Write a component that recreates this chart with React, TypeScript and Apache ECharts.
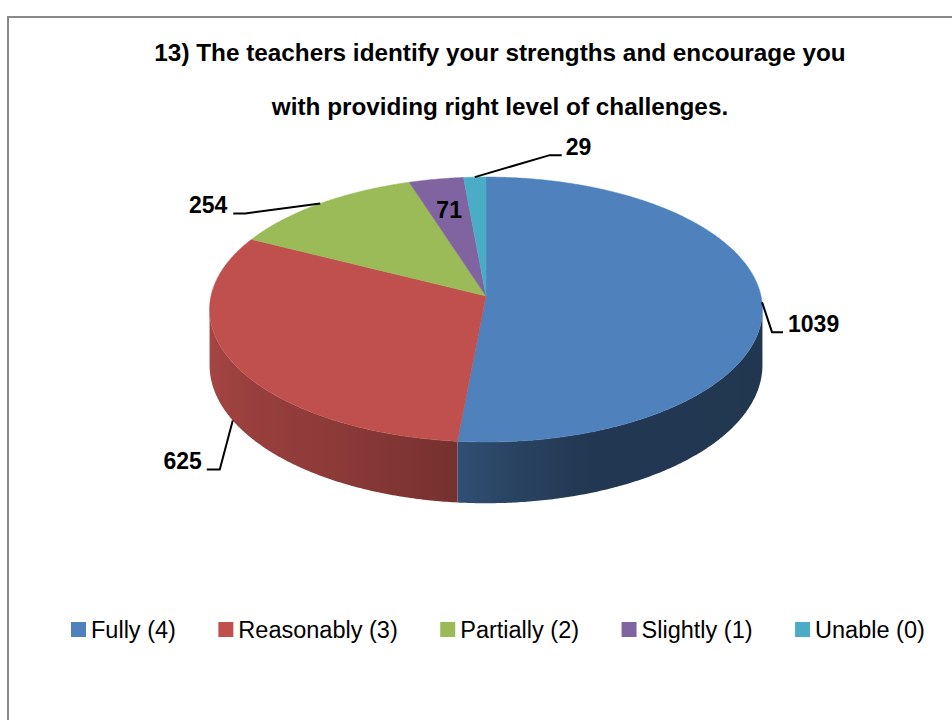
import React, { useEffect, useRef } from 'react';
import * as echarts from 'echarts';

// ---------- data ----------
const categories = ['Fully (4)', 'Reasonably (3)', 'Partially (2)', 'Slightly (1)', 'Unable (0)'];
const values = [1039, 625, 254, 71, 29];
const colors = ['#4F81BD', '#C0504D', '#9BBB59', '#8064A2', '#4BACC6'];
const titleLines = [
  '13) The teachers identify your strengths and encourage you',
  'with providing right level of challenges.',
];

// ---------- geometry / style ----------
const CX = 486;
const CY = 296;
const RX = 275;
const RY = 131.1;
const PERSP = 0.102;
const DEPTH = 55;
const SIL = (Math.acos(-PERSP) * 180) / Math.PI; // silhouette angle of the side wall
const SHADE_STOPS: number[][] = [
  [SIL, 0.42],
  [160, 0.43],
  [175, 0.52],
  [185, 0.61],
  [210, 0.73],
  [235, 0.8],
  [360 - SIL, 0.88],
];
const LABEL_FONT = 'bold 23px "Liberation Sans", Arial, sans-serif';
const LABEL_LAYOUT: any[] = [
  { mode: 'out', depth: 0, elbow: [10, 30], run: 11, gap: 5, dir: 1 },
  { mode: 'out', depth: 1, elbow: [-13, 49], run: -13, gap: 5, dir: -1 },
  { mode: 'out', depth: 0, elbow: [-75, 10], run: -12, gap: 6, dir: -1 },
  { mode: 'in', r: 0.72 },
  { mode: 'out', depth: 0, elbow: [75, -22], run: 12, gap: 4, dir: 1 },
];

const total = values.reduce((a, b) => a + b, 0);
const angles: number[][] = [];
{
  let acc = 0;
  values.forEach((v) => {
    const s = (acc / total) * 360;
    acc += v;
    const e = (acc / total) * 360;
    angles.push([s, e]);
  });
}

function project(phiDeg: number, r: number, dz: number): number[] {
  const p = (phiDeg * Math.PI) / 180;
  const u = r * Math.sin(p);
  const v = -r * Math.cos(p);
  const w = 1 - PERSP * v;
  return [CX + (RX * u) / w, CY + (RY * v + DEPTH * dz) / w];
}

function shadeFactor(phi: number): number {
  for (let i = 0; i < SHADE_STOPS.length - 1; i++) {
    const [a0, f0] = SHADE_STOPS[i];
    const [a1, f1] = SHADE_STOPS[i + 1];
    if (phi >= a0 && phi <= a1) return f0 + ((phi - a0) / (a1 - a0)) * (f1 - f0);
  }
  return phi < SHADE_STOPS[0][0] ? SHADE_STOPS[0][1] : SHADE_STOPS[SHADE_STOPS.length - 1][1];
}

function shade(hex: string, f: number): string {
  const n = parseInt(hex.slice(1), 16);
  const r = Math.round(((n >> 16) & 255) * f);
  const g = Math.round(((n >> 8) & 255) * f);
  const b = Math.round((n & 255) * f);
  return `rgb(${r},${g},${b})`;
}

function topFace(i: number) {
  const [s, e] = angles[i];
  const pts: number[][] = [project(0, 0, 0)];
  const n = Math.max(2, Math.ceil((e - s) / 0.5));
  for (let k = 0; k <= n; k++) pts.push(project(s + ((e - s) * k) / n, 1, 0));
  return {
    type: 'polygon',
    shape: { points: pts },
    style: { fill: colors[i], stroke: colors[i], lineWidth: 0.5 },
  };
}

function sideFaces(i: number) {
  const [s, e] = angles[i];
  const a0 = Math.max(s, SIL);
  const a1 = Math.min(e, 360 - SIL);
  if (a1 <= a0) return [];
  const n = Math.max(2, Math.ceil((a1 - a0) / 0.5));
  const topPts: number[][] = [];
  const botPts: number[][] = [];
  for (let k = 0; k <= n; k++) {
    const phi = a0 + ((a1 - a0) * k) / n;
    topPts.push(project(phi, 1, 0));
    botPts.push(project(phi, 1, 1));
  }
  const xRight = project(a0, 1, 0)[0];
  const xLeft = project(a1, 1, 0)[0];
  const span = Math.max(1e-6, xRight - xLeft);
  const stops: any[] = [];
  const m = 24;
  for (let k = 0; k <= m; k++) {
    const phi = a0 + ((a1 - a0) * k) / m;
    const x = project(phi, 1, 0)[0];
    stops.push({ offset: Math.min(1, Math.max(0, (x - xLeft) / span)), color: shade(colors[i], shadeFactor(phi)) });
  }
  stops.sort((p, q) => p.offset - q.offset);
  const fill = { type: 'linear', x: xLeft, y: 0, x2: xRight, y2: 0, global: true, colorStops: stops };
  return [
    {
      type: 'polygon',
      shape: { points: topPts.concat(botPts.reverse()) },
      style: { fill },
    },
  ];
}

function labelEls(i: number) {
  const [s, e] = angles[i];
  const mid = (s + e) / 2;
  const L = LABEL_LAYOUT[i];
  const text = String(values[i]);
  if (L.mode === 'in') {
    const [x, y] = project(mid, L.r, 0);
    return [
      {
        type: 'text',
        x,
        y,
        style: { text, font: LABEL_FONT, fill: '#000', align: 'center', verticalAlign: 'middle', textAlign: 'center', textVerticalAlign: 'middle' },
      },
    ];
  }
  const a = project(mid, 1, L.depth);
  const el = [a[0] + L.elbow[0], a[1] + L.elbow[1]];
  const end = [el[0] + L.run, el[1]];
  const align = L.dir > 0 ? 'left' : 'right';
  return [
    {
      type: 'polyline',
      shape: { points: [a, el, end] },
      style: { stroke: '#000', lineWidth: 2, fill: null },
    },
    {
      type: 'text',
      x: end[0] + L.gap * L.dir,
      y: end[1] - 8,
      style: { text, font: LABEL_FONT, fill: '#000', align, verticalAlign: 'middle', textAlign: align, textVerticalAlign: 'middle' },
    },
  ];
}

export default function App() {
  const ref = useRef<HTMLDivElement>(null);
  useEffect(() => {
    if (!ref.current) return;
    const chart = echarts.init(ref.current, undefined, { renderer: 'svg' });
    const series: any[] = [
      {
        type: 'custom',
        name: '__sides',
        coordinateSystem: 'none',
        silent: true,
        z: 2,
        data: values.map((_, i) => [i]),
        renderItem: (params: any) => ({ type: 'group', children: sideFaces(params.dataIndex) }),
      },
      ...categories.map((name, i) => ({
        type: 'custom',
        name,
        coordinateSystem: 'none',
        silent: true,
        z: 3,
        itemStyle: { color: colors[i] },
        data: [[i]],
        renderItem: () => topFace(i),
      })),
      {
        type: 'custom',
        name: '__labels',
        coordinateSystem: 'none',
        silent: true,
        z: 4,
        data: values.map((_, i) => [i]),
        renderItem: (params: any) => ({ type: 'group', children: labelEls(params.dataIndex) }),
      },
    ];
    chart.setOption({
      animation: false,
      color: colors,
      title: {
        text: titleLines.join('\n'),
        left: 500,
        top: 25,
        textAlign: 'center',
        padding: 0,
        textStyle: {
          fontFamily: '"Liberation Sans", Arial, sans-serif',
          fontWeight: 'bold',
          fontSize: 24.3,
          lineHeight: 54,
          color: '#000',
        },
      },
      legend: {
        data: categories,
        left: 71,
        top: 617.5,
        padding: 0,
        itemWidth: 15,
        itemHeight: 15,
        itemGap: 42.5,
        icon: 'rect',
        selectedMode: false,
        textStyle: {
          fontFamily: '"Liberation Sans", Arial, sans-serif',
          fontSize: 23.5,
          lineHeight: 24,
          color: '#000',
        },
      },
      graphic: [
        {
          type: 'rect',
          z: -10,
          silent: true,
          shape: { x: 8, y: 17, width: 1100, height: 1100 },
          style: { fill: '#fff', stroke: '#898989', lineWidth: 2 },
        },
      ],
      series,
    });
    return () => chart.dispose();
  }, []);
  return (
    <div
      ref={ref}
      style={{ position: 'fixed', left: 0, top: 0, width: 952, height: 720, background: '#fff' }}
    />
  );
}
